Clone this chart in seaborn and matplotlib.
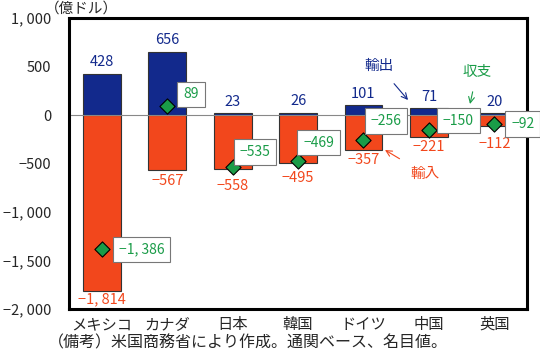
import numpy as np
import matplotlib
matplotlib.use("Agg")
import matplotlib.pyplot as plt
import seaborn as sns

sns.set_style("white")
plt.rcParams['font.family'] = ['Noto Sans CJK JP', 'DejaVu Sans']

categories = ["メキシコ", "カナダ", "日本", "韓国", "ドイツ", "中国", "英国"]
exports = [428, 656, 23, 26, 101, 71, 20]
imports = [-1814, -567, -558, -495, -357, -221, -112]
balance = [-1386, 89, -535, -469, -256, -150, -92]
yticks = [1000, 500, 0, -500, -1000, -1500, -2000]

NAVY = "#12298c"
RED = "#f2471c"
GREEN = "#1a9c48"

def fmt(v):
    return f"{v:,}".replace("-", "−").replace(",", ", ")

fig = plt.figure(figsize=(5.4, 3.56), dpi=100)
ax = fig.add_axes([0.128, 0.132, 0.848, 0.817])

sns.barplot(x=categories, y=exports, color=NAVY, width=0.58, edgecolor="#333333",
            linewidth=0.8, saturation=1, ax=ax)
sns.barplot(x=categories, y=imports, color=RED, width=0.58, edgecolor="#333333",
            linewidth=0.8, saturation=1, ax=ax)
ax.axhline(0, color="#888888", lw=0.8, zorder=1.5)

ax.bar_label(ax.containers[0], labels=[fmt(v) for v in exports], padding=3,
             color=NAVY, fontsize=10.5)
imp_pads = [1, 4, 10, 8, 3, 3, 11]
for bar, v, p in zip(ax.containers[1], imports, imp_pads):
    bottom = min(bar.get_y(), bar.get_y() + bar.get_height())
    ax.annotate(fmt(v), (bar.get_x() + bar.get_width() / 2, bottom),
                xytext=(0, -p), textcoords="offset pixels", ha="center", va="top",
                color=RED, fontsize=10.5)

xpos = np.arange(len(categories))
sns.scatterplot(x=xpos, y=balance, marker="D", s=60, color=GREEN, edgecolor="black",
                linewidth=0.8, zorder=5, ax=ax)

offsets = [(17, 0), (16, 12), (7, 15), (5, 18), (7, 19), (14, 9), (17, 0)]
for xi, b, (dx, dy) in zip(xpos, balance, offsets):
    ax.annotate(fmt(b), (xi, b), xytext=(dx, dy), textcoords="offset pixels",
                ha="left", va="center", color=GREEN, fontsize=10, zorder=6,
                bbox=dict(boxstyle="square,pad=0.42", fc="white", ec="#777777", lw=0.8),
                annotation_clip=False)

ax.set_ylim(-2000, 1000)
ax.set_xlim(-0.5, len(categories) - 0.5)
ax.set_yticks(yticks)
ax.set_yticklabels([fmt(v) for v in yticks], fontsize=10.5)
ax.tick_params(axis="y", direction="in", length=4, width=1, pad=13)
ax.tick_params(axis="x", length=0, labelsize=11, pad=5)
for s in ax.spines.values():
    s.set_color("black")
    s.set_linewidth(2.2)

# annotations
ax.annotate("輸出", xy=(408, 356 - 100), xycoords="figure pixels",
            xytext=(379, 356 - 66), textcoords="figure pixels",
            ha="center", va="center", color=NAVY, fontsize=10.5,
            arrowprops=dict(arrowstyle="->", color=NAVY, lw=0.8, shrinkA=7, shrinkB=0))
ax.annotate("収支", xy=(470, 356 - 104), xycoords="figure pixels",
            xytext=(477, 356 - 72), textcoords="figure pixels",
            ha="center", va="center", color=GREEN, fontsize=10.5,
            arrowprops=dict(arrowstyle="->", color=GREEN, lw=0.8, shrinkA=7, shrinkB=0))
ax.annotate("輸入", xy=(385, 356 - 150), xycoords="figure pixels",
            xytext=(425, 356 - 174), textcoords="figure pixels",
            ha="center", va="center", color=RED, fontsize=10.5,
            arrowprops=dict(arrowstyle="->", color=RED, lw=0.8, shrinkA=7, shrinkB=0))

fig.text(45 / 540, 1 - 9 / 356, "（億ドル）", ha="left", va="center", fontsize=10.5)
fig.text(48 / 540, 1 - 343 / 356, "（備考）米国商務省により作成。通関ベース、名目値。",
         ha="left", va="center", fontsize=11.5)

fig.savefig("out.png", dpi=100)
